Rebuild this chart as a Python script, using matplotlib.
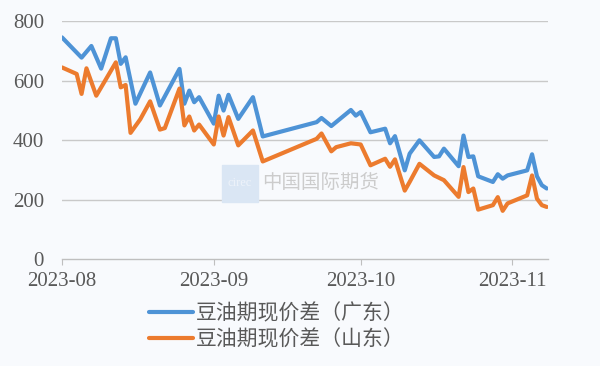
import matplotlib.pyplot as plt
import matplotlib.dates as mdates
import pandas as pd

# 豆油期现价差（广东）
gd_dates = ["2023-08-01", "2023-08-05", "2023-08-07", "2023-08-09", "2023-08-11", "2023-08-12",
            "2023-08-13", "2023-08-14", "2023-08-16", "2023-08-19", "2023-08-21", "2023-08-25",
            "2023-08-26", "2023-08-27", "2023-08-28", "2023-08-29", "2023-09-01", "2023-09-02",
            "2023-09-03", "2023-09-04", "2023-09-06", "2023-09-09", "2023-09-11", "2023-09-22",
            "2023-09-23", "2023-09-25", "2023-09-29", "2023-09-30", "2023-10-01", "2023-10-03",
            "2023-10-06", "2023-10-07", "2023-10-08", "2023-10-10", "2023-10-11", "2023-10-13",
            "2023-10-16", "2023-10-17", "2023-10-18", "2023-10-21", "2023-10-22", "2023-10-23",
            "2023-10-24", "2023-10-25", "2023-10-28", "2023-10-29", "2023-10-30", "2023-10-31",
            "2023-11-04", "2023-11-05", "2023-11-06", "2023-11-07", "2023-11-08"]
gd_values = [745, 677, 716, 640, 742, 742,
             656, 678, 522, 627, 516, 639,
             522, 566, 527, 544, 455, 549,
             499, 552, 471, 544, 412, 460,
             474, 447, 501, 482, 494, 426,
             438, 389, 413, 298, 354, 399,
             343, 345, 371, 312, 415, 343,
             345, 278, 259, 285, 270, 281,
             298, 352, 278, 248, 237]

# 豆油期现价差（山东）
sd_dates = ["2023-08-01", "2023-08-04", "2023-08-05", "2023-08-06", "2023-08-08", "2023-08-12",
            "2023-08-13", "2023-08-14", "2023-08-15", "2023-08-17", "2023-08-19", "2023-08-21",
            "2023-08-22", "2023-08-25", "2023-08-26", "2023-08-27", "2023-08-28", "2023-08-29",
            "2023-09-01", "2023-09-02", "2023-09-03", "2023-09-04", "2023-09-06", "2023-09-09",
            "2023-09-11", "2023-09-22", "2023-09-23", "2023-09-25", "2023-09-26", "2023-09-29",
            "2023-10-01", "2023-10-03", "2023-10-06", "2023-10-07", "2023-10-08", "2023-10-10",
            "2023-10-11", "2023-10-13", "2023-10-16", "2023-10-18", "2023-10-21", "2023-10-22",
            "2023-10-23", "2023-10-24", "2023-10-25", "2023-10-28", "2023-10-29", "2023-10-30",
            "2023-10-31", "2023-11-04", "2023-11-05", "2023-11-06", "2023-11-07", "2023-11-08"]
sd_values = [644, 622, 555, 641, 549, 661,
             577, 585, 424, 470, 530, 435,
             440, 573, 449, 479, 432, 452,
             385, 479, 415, 477, 382, 432,
             328, 404, 422, 362, 376, 389,
             385, 315, 337, 310, 335, 230,
             259, 320, 281, 265, 209, 309,
             225, 237, 166, 181, 208, 162,
             187, 214, 281, 203, 181, 175]

labels = ["豆油期现价差（广东）", "豆油期现价差（山东）"]
yticks = [0, 200, 400, 600, 800]
xticks = ["2023-08-01", "2023-09-01", "2023-10-01", "2023-11-01"]

bg = "#f8fafd"
fig = plt.figure(figsize=(6, 3.66), dpi=100, facecolor=bg)
ax = fig.add_axes([0.1033, 0.2923, 0.81, 0.6503], facecolor=bg)

ax.plot(pd.to_datetime(gd_dates), gd_values, color="#4e93d6", lw=3.0,
        solid_joinstyle="round", solid_capstyle="round", label=labels[0])
ax.plot(pd.to_datetime(sd_dates), sd_values, color="#ec7b2e", lw=3.0,
        solid_joinstyle="round", solid_capstyle="round", label=labels[1])

ax.set_ylim(0, 800)
ax.set_xlim(pd.Timestamp("2023-08-01"), pd.Timestamp("2023-11-08 06:00"))
ax.set_yticks(yticks)
ax.set_xticks(pd.to_datetime(xticks))
ax.xaxis.set_major_formatter(mdates.DateFormatter("%Y-%m"))

for y in yticks[1:]:
    ax.axhline(y, color="#c9c9c9", lw=1.0, zorder=0)

for s in ["top", "right", "left"]:
    ax.spines[s].set_visible(False)
ax.spines["bottom"].set_color("#bfbfbf")
ax.spines["bottom"].set_linewidth(1.0)
ax.tick_params(axis="y", length=0, pad=13)
ax.tick_params(axis="x", length=4, color="#bfbfbf", pad=5, direction="out")
for t in ax.get_xticklabels() + ax.get_yticklabels():
    t.set_family("Liberation Serif")
    t.set_fontsize(15)
    t.set_color("#595959")

# watermark
fig.patches.append(plt.Rectangle((0.37, 0.448), 0.06, 0.101, transform=fig.transFigure,
                                 color="#dae6f4", zorder=0))
fig.text(0.4, 0.5, "cirec", fontsize=9, color="#eef3fa", ha="center", va="center",
         family="Liberation Serif")
fig.text(0.437, 0.5, "中国国际期货", fontsize=14, color="#cccccc", va="center",
         family=["Noto Sans CJK SC", "DejaVu Sans"], weight="light")

fig.legend(loc="center", bbox_to_anchor=(0.462, 0.109), frameon=False,
           prop={"family": ["Noto Sans CJK SC", "DejaVu Sans"], "size": 15, "weight": "light"},
           handlelength=2.1, handletextpad=0.15, labelspacing=0.2, labelcolor="#595959")

fig.savefig("out.png", dpi=100, facecolor=bg)
